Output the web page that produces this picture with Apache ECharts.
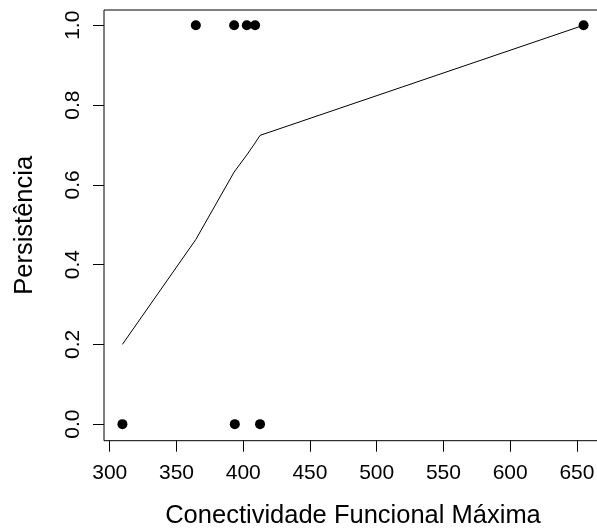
<!DOCTYPE html>
<html>
<head>
<meta charset="utf-8">
<script src="https://cdn.jsdelivr.net/npm/echarts@6/dist/echarts.min.js"></script>
<style>
html,body{margin:0;padding:0;background:#fff;}
#chart{width:597px;height:530px;}
</style>
</head>
<body>
<div id="chart"></div>
<script>
// Observed points
var pointX = [309.5, 364.5, 393.2, 402.7, 408.9, 655, 393.7, 412.6];
var pointY = [0, 1, 1, 1, 1, 1, 0, 0];
// Smoothed curve
var curveX = [309.5, 364.5, 393.2, 393.7, 402.7, 408.9, 412.6, 655];
var curveY = [0.200, 0.463, 0.632, 0.635, 0.675, 0.705, 0.724, 1.000];
// Tick labels
var xTicks = [300, 350, 400, 450, 500, 550, 600, 650];
var yTicks = [0, 0.2, 0.4, 0.6, 0.8, 1.0];
var xTitle = 'Conectividade Funcional Máxima';
var yTitle = 'Persistência';

var pts = pointX.map(function(x, i){ return [x, pointY[i]]; });
var curve = curveX.map(function(x, i){ return [x, curveY[i]]; });
var font = "'Liberation Sans', Arial, sans-serif";

var chart = echarts.init(document.getElementById('chart'));
chart.setOption({
  animation: false,
  backgroundColor: '#fff',
  grid: {left: 104, top: 10, width: 498, height: 430.7, show: true, borderColor: '#000', borderWidth: 1,
    containLabel: false, outerBoundsMode: 'none'},
  xAxis: {
    type: 'value', min: 295.7, max: 668.8,
    splitLine: {show: false},
    axisLine: {show: false, onZero: false},
    axisTick: {show: true, length: 11, inside: false, customValues: xTicks, lineStyle: {color: '#000'}},
    axisLabel: {customValues: xTicks, color: '#000', fontSize: 21, fontFamily: font, margin: 22},
    name: xTitle, nameLocation: 'middle', nameGap: 62,
    nameTextStyle: {color: '#000', fontSize: 25.5, fontFamily: font}
  },
  yAxis: {
    type: 'value', min: -0.0415, max: 1.0383,
    splitLine: {show: false},
    axisLine: {show: false, onZero: false},
    axisTick: {show: true, length: 11, customValues: yTicks, lineStyle: {color: '#000'}},
    axisLabel: {customValues: yTicks, rotate: 90, color: '#000', fontSize: 21, fontFamily: font, margin: 20,
      formatter: function(v){ return v.toFixed(1); }},
    name: yTitle, nameLocation: 'middle', nameGap: 66, nameRotate: 90,
    nameTextStyle: {color: '#000', fontSize: 25.5, fontFamily: font}
  },
  series: [
    {type: 'line', data: curve, showSymbol: false, symbol: 'none', lineStyle: {color: '#000', width: 1}, z: 2},
    {type: 'scatter', data: pts, symbol: 'circle', symbolSize: 10, itemStyle: {color: '#000', opacity: 1}, z: 3}
  ]
});
</script>
</body>
</html>
